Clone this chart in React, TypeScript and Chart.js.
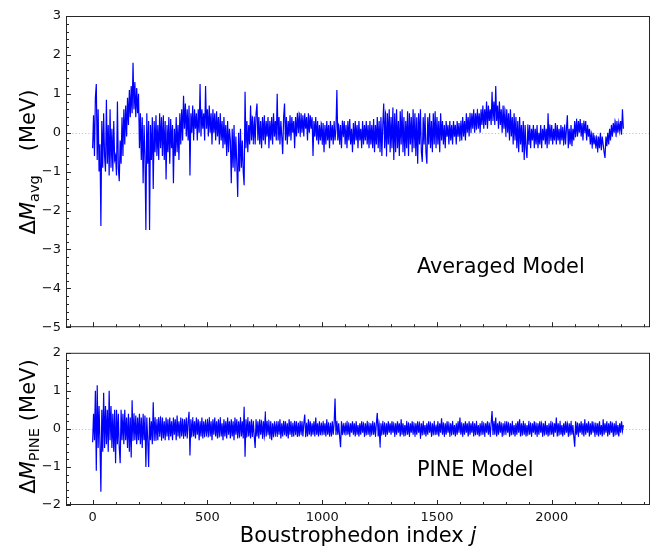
import React, { useEffect, useRef } from "react";
import { Chart, registerables } from "chart.js";
Chart.register(...registerables);

// Boustrophedon index step between stored samples
const STEP = 4;

// ΔM_avg (MeV), one row per 100 in j, sampled every STEP
const avgValues = [
  -0.4, 0.45, -0.6, 0.9, 1.25, -0.7, 0.6, -1.0, -0.3, -2.4, 0.3, -0.9, 0.5, -0.6, -1.0, 0.85, -0.8, 0.2, -1.1, 0.6, -0.9, 0.1, -1.0, 0.3, -0.7,
  -0.6, -1.1, 0.8, -0.9, -1.25, -0.2, -0.8, 0.4, -0.6, 0.6, -0.3, 0.7, -0.1, 0.9, 0.2, 1.1, 0.4, 1.2, 0.5, 1.8, 0.6, 1.3, 0.4, 1.15, 0.5,
  1.0, -0.4, 0.5, -0.7, 0.4, -1.3, 0.2, -0.6, -2.5, 0.5, -0.8, 0.3, -2.5, 0.2, -0.7, 0.4, -1.45, 0.3, -0.5, 0.45, -0.6, 0.2, -0.7, 0.5, -0.4,
  0.4, -0.6, 0.45, -0.7, 0.3, -1.2, 0.2, -0.5, 0.4, -0.8, 0.35, -0.4, 0.2, -1.3, 0.1, -0.6, 0.4, -0.5, 0.2, -0.7, 0.5, -0.3, 0.6, -0.2, 0.95,
  0.1, 0.75, -0.1, 0.6, -0.2, 0.7, -1.1, 0.5, 0.0, 0.7, -0.2, 0.6, 0.1, 0.5, -0.2, 0.6, 0.0, 1.25, -0.1, 0.6, 0.1, 0.5, -0.2, 1.2, 0.1,
  0.6, -0.1, 0.7, 0.0, 0.5, -0.3, 0.6, 0.0, 0.5, -0.2, 0.55, -0.1, 0.4, -0.3, 0.5, -0.2, 0.3, -0.4, 0.4, -0.3, 0.2, -0.6, 0.3, -0.5, 0.1,
  -0.2, -1.3, 0.1, -0.9, 0.2, -1.0, -0.1, -0.8, -1.65, 0.0, -1.0, 0.1, -0.9, -0.2, -1.0, -1.35, 1.05, -0.4, 0.3, -0.5, 0.2, -0.3, 0.7, -0.2, 0.4,
  -0.3, 0.4, -0.3, 0.5, 0.75, -0.2, 0.4, -0.3, 0.3, -0.4, 0.4, -0.2, 0.45, -0.3, 0.3, -0.1, 0.4, -0.4, 0.3, -0.2, 0.4, -0.3, 0.5, -0.1, 0.3,
  -0.2, 1.0, -0.2, 0.4, -0.3, 0.3, -0.1, -0.55, 0.4, 0.75, -0.2, 0.4, -0.3, 0.3, -0.1, 0.45, -0.2, 0.4, 0.0, 0.3, -0.4, 0.4, -0.1, 0.5, 0.0,
  0.5, -0.1, 0.5, 0.0, 0.45, -0.1, 0.5, 0.1, 0.4, -0.2, 0.5, 0.0, 0.45, 0.1, 0.4, -0.6, 0.3, -0.1, 0.4, -0.2, 0.3, -0.3, 0.2, -0.2, 0.25,
  -0.3, 0.25, -0.5, 0.2, -0.3, 0.3, -0.2, 0.2, -0.4, 0.3, -0.2, 0.2, -0.3, 0.3, -0.2, 0.1, 1.1, -0.2, 0.2, -0.3, 0.2, -0.4, 0.3, -0.1, 0.3,
  -0.3, 0.2, -0.4, 0.3, -0.2, 0.35, -0.3, 0.1, -0.5, 0.25, -0.3, 0.3, -0.2, 0.2, -0.4, 0.3, -0.2, 0.1, -0.4, 0.3, -0.3, 0.2, -0.2, 0.3, -0.3,
  0.2, -0.4, 0.3, -0.3, 0.2, -0.4, 0.35, -0.5, 0.2, -0.3, 0.4, -0.4, 0.3, -0.5, 0.4, -0.6, 0.2, 0.75, -0.4, 0.5, -0.6, 0.5, -0.3, 0.6, -0.5,
  0.4, -0.4, 0.65, -0.7, 0.5, -0.5, 0.6, -0.4, 0.3, -0.6, 0.55, -0.3, 0.6, -0.5, 0.4, -0.6, 0.3, -0.4, 0.55, -0.6, 0.5, -0.3, 0.4, -0.5, 0.6,
  -0.4, 0.5, -0.6, 0.4, -0.8, 0.5, -0.3, 0.6, -0.5, -0.75, 0.4, -0.3, 0.5, -0.5, -0.8, 0.4, -0.3, 0.5, -0.4, 0.3, -0.5, 0.5, -0.3, 0.55, -0.4,
  0.4, -0.3, 0.3, -0.5, 0.5, -0.2, 0.3, -0.3, 0.2, -0.4, 0.3, -0.1, 0.2, -0.3, 0.3, -0.2, 0.2, -0.3, 0.3, -0.1, 0.2, -0.3, 0.3, -0.1, 0.25,
  -0.2, 0.3, -0.2, 0.4, -0.1, 0.3, -0.2, 0.5, 0.0, 0.4, -0.1, 0.5, 0.0, 0.5, 0.1, 0.6, 0.0, 0.5, 0.1, 0.6, 0.1, 0.5, 0.0, 0.6, 0.2,
  0.7, 0.1, 0.6, 0.2, 0.8, 0.1, 0.7, 0.3, 0.6, 0.2, 1.05, 0.3, 0.8, 0.2, 1.2, 0.3, 0.7, 0.1, 0.8, 0.2, 0.6, 0.0, 0.7, 0.1, 0.6,
  -0.1, 0.6, 0.0, 0.5, -0.2, 0.6, -0.1, 0.4, -0.3, 0.5, -0.2, 0.4, -0.4, 0.3, -0.5, 0.4, -0.3, 0.2, -0.5, 0.3, -0.7, 0.2, -0.4, -0.65, 0.2,
  -0.3, 0.2, -0.4, 0.1, -0.2, 0.2, -0.4, 0.1, -0.3, 0.2, -0.4, 0.0, -0.3, 0.2, -0.4, 0.1, -0.2, 0.2, -0.3, 0.1, -0.4, 0.5, -0.3, 0.2, -0.2,
  0.2, -0.3, 0.1, -0.2, 0.25, -0.3, 0.2, -0.2, 0.1, -0.3, 0.2, -0.2, 0.15, -0.3, 0.2, -0.3, 0.1, 0.45, -0.4, 0.1, -0.3, 0.2, -0.35, 0.1, -0.2,
  0.3, -0.1, 0.35, -0.1, 0.3, 0.0, 0.35, -0.1, 0.25, -0.2, 0.3, 0.0, 0.3, -0.2, 0.2, -0.1, 0.1, -0.3, 0.0, -0.4, 0.0, -0.3, -0.1, -0.4, -0.1,
  -0.5, -0.1, -0.4, 0.0, -0.45, -0.1, -0.3, -0.5, -0.65, -0.1, -0.35, 0.0, -0.3, 0.1, -0.2, 0.2, -0.1, 0.25, 0.0, 0.3, -0.1, 0.3, 0.0, 0.25, 0.05,
  0.3, -0.05, 0.6, 0.1,
];

// ΔM_PINE (MeV), one row per 100 in j, sampled every STEP
const pineValues = [
  -0.35, 0.4, -0.3, 1.0, -1.1, 1.15, -0.5, 0.6, -0.4, -1.65, 0.5, -0.6, 0.95, -0.5, 0.6, -0.4, 0.5, -0.6, 1.0, -0.3, 0.6, -0.5, 0.4, -0.6, 0.5,
  -0.9, 0.5, -0.4, 0.4, -0.5, -0.9, 0.5, -0.3, 0.4, -0.4, 0.5, -0.3, 0.3, -0.5, 0.4, -0.6, 0.3, -0.75, 0.75, -0.3, 0.4, -0.3, 0.35, -0.4, 0.3,
  -0.3, 0.4, -0.4, 0.3, -0.5, 0.4, -0.3, 0.35, -1.0, 0.3, -0.3, -1.0, 0.3, -0.3, 0.2, -0.4, 0.7, -0.3, 0.3, -0.3, 0.25, -0.3, 0.3, -0.2, 0.3,
  -0.3, 0.3, -0.25, 0.2, -0.3, 0.3, -0.2, 0.25, -0.3, 0.3, -0.2, 0.2, -0.3, 0.3, -0.15, 0.25, -0.3, 0.35, -0.2, 0.2, -0.25, 0.3, -0.2, 0.25, -0.25,
  0.25, -0.2, 0.3, -0.25, 0.2, 0.45, -0.7, 0.25, -0.2, 0.3, -0.2, 0.2, -0.25, 0.3, -0.15, 0.25, -0.3, 0.2, -0.2, 0.3, -0.25, 0.2, -0.2, 0.25, -0.2,
  0.25, -0.2, 0.3, -0.2, 0.2, -0.3, 0.25, -0.15, 0.3, -0.2, 0.2, -0.25, 0.25, -0.2, 0.3, -0.2, 0.15, -0.3, 0.25, -0.2, 0.2, -0.25, 0.3, -0.15, 0.2,
  -0.25, 0.25, -0.2, 0.2, -0.3, 0.3, -0.15, 0.25, -0.25, 0.2, -0.2, 0.3, -0.2, 0.2, -0.25, 0.58, -0.73, 0.25, -0.2, 0.3, -0.2, 0.2, -0.25, 0.25, -0.2,
  0.2, -0.2, -0.5, 0.25, -0.2, 0.2, -0.25, 0.25, -0.15, 0.2, -0.25, 0.2, -0.2, 0.45, -0.2, 0.2, -0.15, 0.2, -0.25, 0.2, -0.3, 0.15, -0.2, 0.2, -0.2,
  0.2, -0.2, 0.2, -0.15, 0.25, -0.25, 0.15, -0.2, 0.2, -0.15, 0.2, -0.2, 0.15, -0.25, 0.25, -0.15, 0.2, -0.2, 0.15, -0.2, 0.2, -0.15, 0.2, -0.2, 0.15,
  -0.2, 0.2, -0.15, 0.2, -0.2, 0.15, 0.38, -0.2, 0.15, -0.2, 0.25, -0.15, 0.2, -0.2, 0.15, -0.15, 0.2, -0.2, 0.3, -0.15, 0.15, -0.2, 0.2, -0.15, 0.15,
  -0.15, 0.2, -0.15, 0.15, -0.2, 0.25, -0.15, 0.15, -0.2, 0.15, -0.2, 0.2, -0.15, 0.15, 0.8, -0.15, 0.2, -0.15, 0.15, -0.2, -0.48, 0.2, -0.15, 0.15, -0.15,
  0.15, -0.15, 0.2, -0.15, 0.15, -0.2, 0.15, -0.1, 0.2, -0.15, 0.15, -0.2, 0.2, -0.15, 0.1, -0.2, 0.15, -0.15, 0.2, -0.1, 0.15, -0.2, 0.15, -0.15, 0.2,
  -0.15, 0.15, -0.2, 0.15, -0.15, 0.2, -0.15, 0.15, -0.2, 0.15, 0.42, -0.2, 0.15, -0.48, 0.15, -0.15, 0.2, -0.15, 0.15, -0.2, 0.15, -0.15, 0.2, -0.1, 0.15,
  -0.15, 0.2, -0.1, 0.15, -0.2, 0.15, -0.15, 0.2, -0.1, 0.15, -0.2, 0.25, -0.15, 0.15, -0.2, 0.1, -0.15, 0.2, -0.15, 0.15, -0.2, 0.15, -0.1, 0.2, -0.15,
  0.15, -0.2, 0.15, -0.15, 0.2, -0.1, 0.15, -0.25, 0.15, -0.15, 0.2, -0.15, 0.1, -0.2, 0.15, -0.15, 0.2, -0.1, 0.15, -0.2, 0.15, -0.15, 0.2, -0.15, 0.1,
  -0.15, 0.2, -0.2, 0.15, -0.1, 0.28, -0.15, 0.15, -0.2, 0.15, -0.15, 0.2, -0.1, 0.15, -0.2, 0.15, -0.15, 0.2, -0.15, 0.1, -0.2, 0.15, -0.15, 0.2, -0.1,
  0.3, -0.15, 0.15, -0.2, 0.15, -0.15, 0.2, -0.1, 0.15, -0.2, 0.2, -0.15, 0.15, -0.1, 0.2, -0.2, 0.15, -0.15, 0.2, -0.15, 0.1, -0.2, 0.15, -0.15, 0.2,
  -0.15, 0.15, -0.2, 0.15, -0.1, 0.2, -0.15, 0.15, -0.2, 0.15, 0.47, -0.15, 0.2, -0.15, 0.3, -0.2, 0.15, -0.15, 0.2, -0.1, 0.15, -0.2, 0.15, -0.15, 0.2,
  -0.15, 0.2, -0.1, 0.15, -0.2, 0.15, -0.15, 0.2, -0.15, 0.1, -0.2, 0.15, -0.15, 0.2, -0.1, 0.25, -0.2, 0.15, -0.15, 0.2, -0.15, 0.15, -0.2, 0.1, -0.15,
  0.2, -0.15, 0.15, -0.2, 0.15, -0.1, 0.2, -0.15, 0.15, -0.2, 0.15, -0.15, 0.2, -0.1, 0.15, -0.2, 0.15, -0.15, 0.2, -0.15, 0.1, -0.2, 0.15, -0.15, 0.2,
  -0.15, 0.15, -0.2, 0.15, -0.1, 0.3, -0.2, 0.15, -0.15, 0.2, -0.15, 0.1, -0.2, 0.15, -0.15, 0.2, -0.1, 0.15, -0.2, 0.15, -0.15, 0.2, -0.15, 0.1, -0.2,
  -0.47, 0.2, -0.15, 0.15, -0.2, 0.15, -0.1, 0.2, -0.15, 0.15, -0.2, 0.25, -0.15, 0.15, -0.1, 0.2, -0.2, 0.15, -0.15, 0.2, -0.1, 0.15, -0.2, 0.15, -0.15,
  0.15, -0.2, 0.2, -0.15, 0.1, -0.2, 0.25, -0.15, 0.15, -0.1, 0.2, -0.2, 0.15, -0.15, 0.2, -0.1, 0.15, -0.2, 0.15, -0.15, 0.2, -0.15, 0.1, -0.2, 0.15,
  -0.1, 0.2, -0.05, 0.1,
];

const xTickValues = [0, 500, 1000, 1500, 2000];
const xLimits = [-116, 2428];
const yTicksTop = [3, 2, 1, 0, -1, -2, -3, -4, -5];
const yTicksBottom = [2, 1, 0, -1, -2];
const topLabelSub = "avg";
const bottomLabelSub = "PINE";
const topNote = "Averaged Model";
const bottomNote = "PINE Model";
const xTitleMain = "Boustrophedon index ";
const xTitleVar = "j";

const FONT = '"DejaVu Sans", "Liberation Sans", sans-serif';
const W = 651;
const TOP_H = 340;
const BOT_H = 209;

function minorSteps(lo: number, hi: number, step: number, majorEvery: number) {
  const out: number[] = [];
  const n = Math.round((hi - lo) / step);
  for (let i = 0; i <= n; i++) {
    const v = lo + i * step;
    const r = v / majorEvery;
    if (Math.abs(r - Math.round(r)) > 1e-6) out.push(v);
  }
  return out;
}

type PanelCfg = {
  yTicks: number[];
  sub: string;
  gap: number;
  titleCY: number;
  note: string;
  noteX: number;
  noteY: number;
  xTitleY?: number;
};

function drawYTitle(ctx: CanvasRenderingContext2D, x: number, cy: number, sub: string, gap: number) {
  const parts = [
    { t: "\u0394", f: `21px ${FONT}`, dy: 0, extra: 0 },
    { t: "M", f: `italic 21px ${FONT}`, dy: 0, extra: 0 },
    { t: sub, f: `14.5px ${FONT}`, dy: 4.5, extra: gap },
    { t: "(MeV)", f: `21px ${FONT}`, dy: 0, extra: 0 },
  ];
  let total = 0;
  const widths = parts.map((p) => {
    ctx.font = p.f;
    const w = ctx.measureText(p.t).width + p.extra;
    total += w;
    return w;
  });
  ctx.save();
  ctx.translate(x, cy);
  ctx.rotate(-Math.PI / 2);
  ctx.fillStyle = "#000";
  ctx.textBaseline = "alphabetic";
  ctx.textAlign = "left";
  let cx = -total / 2;
  parts.forEach((p, i) => {
    ctx.font = p.f;
    ctx.fillText(p.t, cx, p.dy);
    cx += widths[i];
  });
  ctx.restore();
}

function makePanelPlugin(cfg: PanelCfg) {
  return {
    id: "panelDecor",
    beforeDatasetsDraw(chart: any) {
      const { ctx, chartArea: a, scales } = chart;
      const y0 = Math.round(scales.y.getPixelForValue(0)) + 0.5;
      ctx.save();
      ctx.strokeStyle = "#b5b5b5";
      ctx.lineWidth = 0.8;
      ctx.setLineDash([1.2, 2]);
      ctx.beginPath();
      ctx.moveTo(a.left, y0);
      ctx.lineTo(a.right, y0);
      ctx.stroke();
      ctx.restore();
    },
    afterDatasetsDraw(chart: any) {
      const { ctx, chartArea: a, scales } = chart;
      const xs = scales.x;
      const ys = scales.y;
      ctx.save();
      ctx.strokeStyle = "#262626";
      ctx.lineWidth = 1;
      ctx.strokeRect(a.left + 0.5, a.top + 0.5, a.right - a.left - 1, a.bottom - a.top - 1);
      ctx.beginPath();
      xTickValues.forEach((v) => {
        const px = Math.round(xs.getPixelForValue(v)) + 0.5;
        ctx.moveTo(px, a.bottom);
        ctx.lineTo(px, a.bottom - 5);
      });
      minorSteps(-100, 2400, 100, 500).forEach((v) => {
        const px = Math.round(xs.getPixelForValue(v)) + 0.5;
        ctx.moveTo(px, a.bottom);
        ctx.lineTo(px, a.bottom - 3);
      });
      cfg.yTicks.forEach((v) => {
        const py = Math.round(ys.getPixelForValue(v)) + 0.5;
        ctx.moveTo(a.left, py);
        ctx.lineTo(a.left + 5, py);
      });
      const ymin = Math.min(...cfg.yTicks);
      const ymax = Math.max(...cfg.yTicks);
      minorSteps(ymin, ymax, 0.2, 1).forEach((v) => {
        const py = Math.round(ys.getPixelForValue(v)) + 0.5;
        ctx.moveTo(a.left, py);
        ctx.lineTo(a.left + 3, py);
      });
      ctx.stroke();
      ctx.restore();

      ctx.save();
      ctx.fillStyle = "#000";
      ctx.font = `20.8px ${FONT}`;
      ctx.textAlign = "left";
      ctx.textBaseline = "alphabetic";
      ctx.fillText(cfg.note, cfg.noteX, cfg.noteY);
      ctx.restore();

      drawYTitle(ctx, 34.5, cfg.titleCY, cfg.sub, cfg.gap);

      if (cfg.xTitleY !== undefined) {
        ctx.save();
        ctx.fillStyle = "#000";
        ctx.textBaseline = "alphabetic";
        ctx.font = `21px ${FONT}`;
        const w1 = ctx.measureText(xTitleMain).width;
        ctx.font = `italic 21px ${FONT}`;
        const w2 = ctx.measureText(xTitleVar).width;
        const cx = (a.left + a.right) / 2;
        const sx = cx - (w1 + w2) / 2;
        ctx.font = `21px ${FONT}`;
        ctx.fillText(xTitleMain, sx, cfg.xTitleY);
        ctx.font = `italic 21px ${FONT}`;
        ctx.fillText(xTitleVar, sx + w1, cfg.xTitleY);
        ctx.restore();
      }
    },
  };
}

function buildChart(
  canvas: HTMLCanvasElement,
  values: number[],
  yTicks: number[],
  padding: { top: number; bottom: number },
  xHeight: number,
  showXLabels: boolean,
  plugin: any
) {
  const points = values.map((v, i) => ({ x: i * STEP, y: v }));
  const fmt = (v: any) => String(v).replace("-", "\u2212");
  return new Chart(canvas, {
    type: "line",
    data: {
      datasets: [
        {
          data: points,
          borderColor: "#0000ff",
          borderWidth: 1.2,
          pointRadius: 0,
          fill: false,
          // a tiny tension keeps Chart.js off its per-pixel "fast path",
          // so each segment is drawn as a true straight stroke
          tension: 0.0001,
          borderJoinStyle: "miter",
        },
      ],
    },
    options: {
      animation: false,
      responsive: false,
      devicePixelRatio: 1,
      events: [],
      layout: { padding: { top: padding.top, bottom: padding.bottom, left: 0, right: 1 } },
      plugins: { legend: { display: false }, tooltip: { enabled: false } },
      scales: {
        x: {
          type: "linear",
          min: xLimits[0],
          max: xLimits[1],
          grid: { display: false, drawTicks: false },
          border: { display: false },
          afterBuildTicks: (s: any) => {
            s.ticks = xTickValues.map((v) => ({ value: v }));
          },
          afterFit: (s: any) => {
            s.height = xHeight;
          },
          ticks: {
            display: showXLabels,
            padding: 5,
            maxRotation: 0,
            autoSkip: false,
            color: "#111",
            font: { family: FONT, size: 13 },
            callback: fmt,
          },
        },
        y: {
          type: "linear",
          min: Math.min(...yTicks),
          max: Math.max(...yTicks),
          grid: { display: false, drawTicks: false },
          border: { display: false },
          afterBuildTicks: (s: any) => {
            s.ticks = yTicks.map((v) => ({ value: v }));
          },
          afterFit: (s: any) => {
            s.width = 66;
          },
          ticks: {
            padding: 5,
            autoSkip: false,
            color: "#111",
            font: { family: FONT, size: 13 },
            callback: fmt,
          },
        },
      },
    },
    plugins: [plugin],
  });
}

export default function App() {
  const topRef = useRef<HTMLCanvasElement>(null);
  const botRef = useRef<HTMLCanvasElement>(null);

  useEffect(() => {
    const c1 = buildChart(
      topRef.current!,
      avgValues,
      yTicksTop,
      { top: 16, bottom: 0 },
      11,
      false,
      makePanelPlugin({
        yTicks: yTicksTop,
        sub: topLabelSub,
        gap: 24,
        titleCY: 162,
        note: topNote,
        noteX: 417,
        noteY: 273,
      })
    );
    const c2 = buildChart(
      botRef.current!,
      pineValues,
      yTicksBottom,
      { top: 8, bottom: 14 },
      30,
      true,
      makePanelPlugin({
        yTicks: yTicksBottom,
        sub: bottomLabelSub,
        gap: 7,
        titleCY: 86.5,
        note: bottomNote,
        noteX: 417,
        noteY: 136,
        xTitleY: 202,
      })
    );
    return () => {
      c1.destroy();
      c2.destroy();
    };
  }, []);

  return (
    <div style={{ position: "absolute", left: 0, top: 0, width: W, height: TOP_H + BOT_H, background: "#fff" }}>
      <canvas ref={topRef} width={W} height={TOP_H} style={{ position: "absolute", left: 0, top: 0, width: W, height: TOP_H }} />
      <canvas ref={botRef} width={W} height={BOT_H} style={{ position: "absolute", left: 0, top: TOP_H, width: W, height: BOT_H }} />
    </div>
  );
}
